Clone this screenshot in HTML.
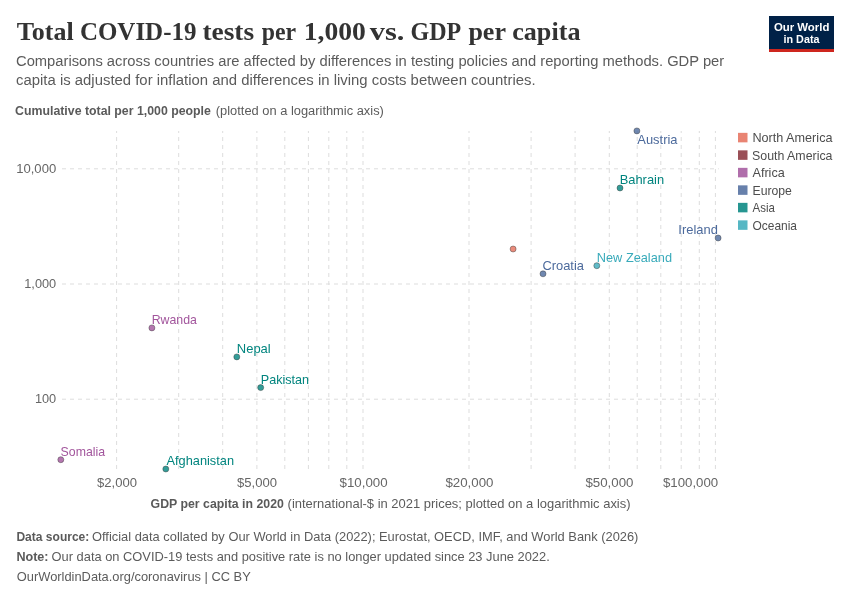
<!DOCTYPE html>
<html><head><meta charset="utf-8"><style>
html,body{margin:0;padding:0;background:#fff;width:850px;height:600px;overflow:hidden}
svg{display:block;will-change:transform}
text{font-family:"Liberation Sans",sans-serif}
text.ser{font-family:"Liberation Serif",serif}
</style></head><body>
<svg width="850" height="600" viewBox="0 0 850 600">
<rect width="850" height="600" fill="#fff"/>
<text id="tw0" font-size="26" textLength="56.84" lengthAdjust="spacingAndGlyphs" x="16.80" y="40.40" class="ser" font-weight="bold" fill="#333">Total</text>
<text id="tw1" font-size="26" textLength="116.54" lengthAdjust="spacingAndGlyphs" x="79.90" y="40.40" class="ser" font-weight="bold" fill="#333">COVID-19</text>
<text id="tw2" font-size="26" textLength="51.69" lengthAdjust="spacingAndGlyphs" x="202.40" y="40.40" class="ser" font-weight="bold" fill="#333">tests</text>
<text id="tw3" font-size="26" textLength="34.35" lengthAdjust="spacingAndGlyphs" x="261.80" y="40.40" class="ser" font-weight="bold" fill="#333">per</text>
<text id="tw4" font-size="26" textLength="62.10" lengthAdjust="spacingAndGlyphs" x="303.70" y="40.40" class="ser" font-weight="bold" fill="#333">1,000</text>
<text id="tw5" font-size="26" textLength="34.62" lengthAdjust="spacingAndGlyphs" x="369.70" y="40.40" class="ser" font-weight="bold" fill="#333">vs.</text>
<text id="tw6" font-size="26" textLength="50.69" lengthAdjust="spacingAndGlyphs" x="410.60" y="40.40" class="ser" font-weight="bold" fill="#333">GDP</text>
<text id="tw7" font-size="26" textLength="37.55" lengthAdjust="spacingAndGlyphs" x="468.40" y="40.40" class="ser" font-weight="bold" fill="#333">per</text>
<text id="tw8" font-size="26" textLength="68.29" lengthAdjust="spacingAndGlyphs" x="512.20" y="40.40" class="ser" font-weight="bold" fill="#333">capita</text>
<text id="sub1" font-size="14.75" textLength="708.20" lengthAdjust="spacingAndGlyphs" x="16.00" y="66.20" fill="#5b5b5b">Comparisons across countries are affected by differences in testing policies and reporting methods. GDP per</text>
<text id="sub2" font-size="14.75" textLength="519.64" lengthAdjust="spacingAndGlyphs" x="16.00" y="84.50" fill="#5b5b5b">capita is adjusted for inflation and differences in living costs between countries.</text>
<rect x="769" y="16" width="65" height="36" fill="#002147"/>
<rect x="769" y="49" width="65" height="3" fill="#CE261E"/>
<text id="logo1" font-size="11.4" textLength="55.48" lengthAdjust="spacingAndGlyphs" x="773.90" y="30.70" font-weight="bold" fill="#fff">Our World</text>
<text id="logo2" font-size="11.4" textLength="35.98" lengthAdjust="spacingAndGlyphs" x="783.50" y="42.80" font-weight="bold" fill="#fff">in Data</text>
<text id="ytitle_a" font-size="12.5" textLength="195.77" lengthAdjust="spacingAndGlyphs" x="15.10" y="115.00" font-weight="bold" fill="#5a5a5a">Cumulative total per 1,000 people</text>
<text id="ytitle_b" font-size="12.5" textLength="168.08" lengthAdjust="spacingAndGlyphs" x="215.80" y="115.00" fill="#5b5b5b">(plotted on a logarithmic axis)</text>
<g stroke="#dddddd" stroke-width="1" stroke-dasharray="4,4" fill="none">
<line x1="116.6" y1="469" x2="116.6" y2="131"/>
<line x1="178.7" y1="469" x2="178.7" y2="131"/>
<line x1="222.7" y1="469" x2="222.7" y2="131"/>
<line x1="256.9" y1="469" x2="256.9" y2="131"/>
<line x1="284.8" y1="469" x2="284.8" y2="131"/>
<line x1="308.4" y1="469" x2="308.4" y2="131"/>
<line x1="328.8" y1="469" x2="328.8" y2="131"/>
<line x1="346.8" y1="469" x2="346.8" y2="131"/>
<line x1="363.0" y1="469" x2="363.0" y2="131"/>
<line x1="469.0" y1="469" x2="469.0" y2="131"/>
<line x1="531.1" y1="469" x2="531.1" y2="131"/>
<line x1="575.1" y1="469" x2="575.1" y2="131"/>
<line x1="609.3" y1="469" x2="609.3" y2="131"/>
<line x1="637.2" y1="469" x2="637.2" y2="131"/>
<line x1="660.8" y1="469" x2="660.8" y2="131"/>
<line x1="681.2" y1="469" x2="681.2" y2="131"/>
<line x1="699.3" y1="469" x2="699.3" y2="131"/>
<line x1="715.4" y1="469" x2="715.4" y2="131"/>
<line x1="62" y1="168.8" x2="718.8" y2="168.8"/>
<line x1="62" y1="284" x2="718.8" y2="284"/>
<line x1="62" y1="399.2" x2="718.8" y2="399.2"/>
</g>
<g fill="#666">
<text id="yt0" font-size="12.75" text-anchor="end" textLength="40.00" lengthAdjust="spacingAndGlyphs" x="56.20" y="172.90" >10,000</text>
<text id="yt1" font-size="12.75" text-anchor="end" x="56.20" y="288.10" >1,000</text>
<text id="yt2" font-size="12.75" text-anchor="end" x="56.20" y="403.30" >100</text>
<text id="xt0" font-size="12.75" textLength="40.00" lengthAdjust="spacingAndGlyphs" x="97.00" y="486.90" >$2,000</text>
<text id="xt1" font-size="12.75" textLength="40.00" lengthAdjust="spacingAndGlyphs" x="237.00" y="486.90" >$5,000</text>
<text id="xt2" font-size="12.75" textLength="48.09" lengthAdjust="spacingAndGlyphs" x="339.50" y="486.90" >$10,000</text>
<text id="xt3" font-size="12.75" textLength="48.09" lengthAdjust="spacingAndGlyphs" x="445.40" y="486.90" >$20,000</text>
<text id="xt4" font-size="12.75" textLength="48.09" lengthAdjust="spacingAndGlyphs" x="585.40" y="486.90" >$50,000</text>
<text id="xt5" font-size="12.75" textLength="55.19" lengthAdjust="spacingAndGlyphs" x="663.00" y="486.90" >$100,000</text>
</g>
<text id="xtitle_a" font-size="12.75" textLength="133.25" lengthAdjust="spacingAndGlyphs" x="150.60" y="508.20" font-weight="bold" fill="#5a5a5a">GDP per capita in 2020</text>
<text id="xtitle_b" font-size="12.75" textLength="342.96" lengthAdjust="spacingAndGlyphs" x="287.60" y="508.20" fill="#5b5b5b">(international-$ in 2021 prices; plotted on a logarithmic axis)</text>
<g>
<text id="l_Austria" font-size="12.6" textLength="40.20" lengthAdjust="spacingAndGlyphs" x="637.30" y="143.70" fill="#4C6A9C">Austria</text>
<text id="l_Bahrain" font-size="12.6" textLength="44.42" lengthAdjust="spacingAndGlyphs" x="619.70" y="183.70" fill="#00847E">Bahrain</text>
<text id="l_Ireland" font-size="12.6" text-anchor="end" textLength="39.52" lengthAdjust="spacingAndGlyphs" x="717.90" y="233.70" fill="#4C6A9C">Ireland</text>
<text id="l_Croatia" font-size="12.6" textLength="41.61" lengthAdjust="spacingAndGlyphs" x="542.40" y="269.50" fill="#4C6A9C">Croatia</text>
<text id="l_NewZealand" font-size="12.6" textLength="75.22" lengthAdjust="spacingAndGlyphs" x="596.80" y="261.90" fill="#38AABA">New Zealand</text>
<text id="l_Rwanda" font-size="12.6" textLength="45.22" lengthAdjust="spacingAndGlyphs" x="151.70" y="323.60" fill="#A2559C">Rwanda</text>
<text id="l_Nepal" font-size="12.6" textLength="33.91" lengthAdjust="spacingAndGlyphs" x="236.80" y="352.60" fill="#00847E">Nepal</text>
<text id="l_Pakistan" font-size="12.6" textLength="48.31" lengthAdjust="spacingAndGlyphs" x="260.80" y="383.80" fill="#00847E">Pakistan</text>
<text id="l_Somalia" font-size="12.6" textLength="44.50" lengthAdjust="spacingAndGlyphs" x="60.60" y="455.60" fill="#A2559C">Somalia</text>
<text id="l_Afghanistan" font-size="12.6" textLength="67.53" lengthAdjust="spacingAndGlyphs" x="166.50" y="464.70" fill="#00847E">Afghanistan</text>
</g>
<g>
<circle cx="636.9" cy="130.9" r="3" fill="#4C6A9C" fill-opacity="0.8" stroke="#333" stroke-opacity="0.85" stroke-width="0.5"/>
<circle cx="620" cy="188" r="3" fill="#00847E" fill-opacity="0.8" stroke="#333" stroke-opacity="0.85" stroke-width="0.5"/>
<circle cx="718.1" cy="238" r="3" fill="#4C6A9C" fill-opacity="0.8" stroke="#333" stroke-opacity="0.85" stroke-width="0.5"/>
<circle cx="513.1" cy="249" r="3" fill="#E56E5A" fill-opacity="0.8" stroke="#333" stroke-opacity="0.85" stroke-width="0.5"/>
<circle cx="543" cy="273.8" r="3" fill="#4C6A9C" fill-opacity="0.8" stroke="#333" stroke-opacity="0.85" stroke-width="0.5"/>
<circle cx="596.8" cy="265.7" r="3" fill="#38AABA" fill-opacity="0.8" stroke="#333" stroke-opacity="0.85" stroke-width="0.5"/>
<circle cx="151.9" cy="327.9" r="3" fill="#A2559C" fill-opacity="0.8" stroke="#333" stroke-opacity="0.85" stroke-width="0.5"/>
<circle cx="236.8" cy="356.9" r="3" fill="#00847E" fill-opacity="0.8" stroke="#333" stroke-opacity="0.85" stroke-width="0.5"/>
<circle cx="260.7" cy="387.6" r="3" fill="#00847E" fill-opacity="0.8" stroke="#333" stroke-opacity="0.85" stroke-width="0.5"/>
<circle cx="60.8" cy="459.7" r="3" fill="#A2559C" fill-opacity="0.8" stroke="#333" stroke-opacity="0.85" stroke-width="0.5"/>
<circle cx="165.8" cy="469" r="3" fill="#00847E" fill-opacity="0.8" stroke="#333" stroke-opacity="0.85" stroke-width="0.5"/>
</g>
<g fill="#4d4d4d">
<rect x="738" y="132.85" width="9.5" height="9.5" fill="#E56E5A" fill-opacity="0.85"/>
<text id="lg0" font-size="12.6" textLength="80.10" lengthAdjust="spacingAndGlyphs" x="752.40" y="141.90" >North America</text>
<rect x="738" y="150.35" width="9.5" height="9.5" fill="#883039" fill-opacity="0.85"/>
<text id="lg1" font-size="12.6" textLength="80.51" lengthAdjust="spacingAndGlyphs" x="752.00" y="159.50" >South America</text>
<rect x="738" y="167.85" width="9.5" height="9.5" fill="#A2559C" fill-opacity="0.85"/>
<text id="lg2" font-size="12.6" textLength="32.20" lengthAdjust="spacingAndGlyphs" x="752.50" y="177.00" >Africa</text>
<rect x="738" y="185.35" width="9.5" height="9.5" fill="#4C6A9C" fill-opacity="0.85"/>
<text id="lg3" font-size="12.6" textLength="39.43" lengthAdjust="spacingAndGlyphs" x="752.50" y="194.50" >Europe</text>
<rect x="738" y="202.85" width="9.5" height="9.5" fill="#00847E" fill-opacity="0.85"/>
<text id="lg4" font-size="12.6" textLength="22.30" lengthAdjust="spacingAndGlyphs" x="752.50" y="212.00" >Asia</text>
<rect x="738" y="220.35" width="9.5" height="9.5" fill="#38AABA" fill-opacity="0.85"/>
<text id="lg5" font-size="12.6" textLength="44.52" lengthAdjust="spacingAndGlyphs" x="752.50" y="229.50" >Oceania</text>
</g>
<g fill="#5b5b5b">
<text id="f1a" font-size="12.75" textLength="72.95" lengthAdjust="spacingAndGlyphs" x="16.40" y="540.70" font-weight="bold" fill="#5a5a5a">Data source:</text>
<text id="f1b" font-size="12.75" textLength="546.42" lengthAdjust="spacingAndGlyphs" x="92.00" y="540.70" >Official data collated by Our World in Data (2022); Eurostat, OECD, IMF, and World Bank (2026)</text>
<text id="f2a" font-size="12.75" textLength="32.19" lengthAdjust="spacingAndGlyphs" x="16.40" y="560.90" font-weight="bold" fill="#5a5a5a">Note:</text>
<text id="f2b" font-size="12.75" textLength="498.12" lengthAdjust="spacingAndGlyphs" x="51.60" y="560.90" >Our data on COVID-19 tests and positive rate is no longer updated since 23 June 2022.</text>
<text id="f3" font-size="12.75" textLength="233.95" lengthAdjust="spacingAndGlyphs" x="16.80" y="580.80" >OurWorldinData.org/coronavirus | CC BY</text>
</g>
</svg>
</body></html>
